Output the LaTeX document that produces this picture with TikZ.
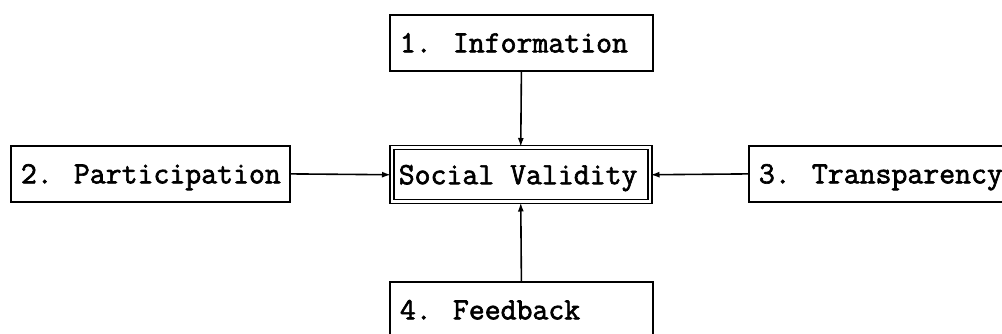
\documentclass[tikz,border=0pt]{standalone}
\usepackage{fontspec}
\newfontfamily\boxmono{Latin Modern Mono}[FakeBold=2]
\usetikzlibrary{arrows.meta}
\begin{document}
\begin{tikzpicture}[x=1pt,y=-1pt,
  every node/.style={font=\boxmono\fontsize{30.9}{34}\selectfont, text height=18.9pt, text depth=0pt},
  factor/.style={draw, line width=1.8pt, inner xsep=10pt, inner ysep=0pt, anchor=north west, minimum height=56pt},
  core/.style={draw, double, line width=1.5pt, double distance=2.5pt, inner xsep=7pt, inner ysep=0pt, anchor=north west, minimum height=54pt},
  link/.style={line width=1.6pt, -{Latex[length=9pt,width=6pt]}}]
\clip (0,0) rectangle (1002,334);
\useasboundingbox (0,0) rectangle (1002,334);
\fill[white] (0,0) rectangle (1002,334);
\node[factor] (info) at (389,14) {\makebox[243pt][l]{1. Information}};
\node[factor] (part) at (10,145) {\makebox[259pt][l]{2. Participation}};
\node[factor] (trans) at (748,145) {\makebox[250pt][l]{3. Transparency}};
\node[factor] (feed) at (389,281) {\makebox[243pt][l]{4. Feedback}};
\node[core] (sv) at (391,147) {\makebox[244pt][l]{Social Validity}};
\draw[link] (info.south) -- (sv.north);
\draw[link] (part.east) -- (sv.west);
\draw[link] (trans.west) -- (sv.east);
\draw[link] (feed.north) -- (sv.south);
\end{tikzpicture}
\end{document}
